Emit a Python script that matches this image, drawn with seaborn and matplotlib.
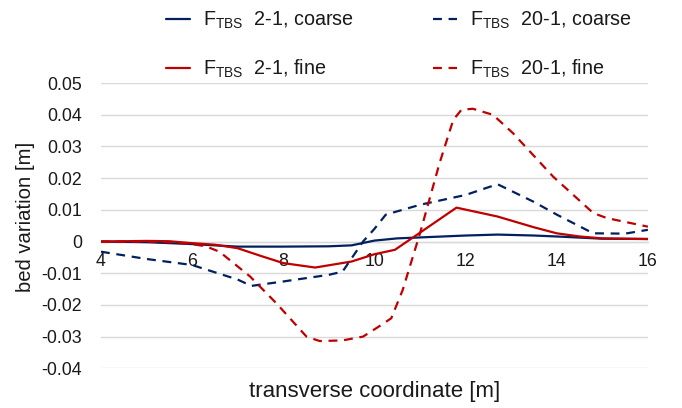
import numpy as np
import pandas as pd
import matplotlib
matplotlib.use("Agg")
import matplotlib.pyplot as plt
import seaborn as sns

# ---- data ----
x_c21 = [4, 5, 6, 6.5, 7, 8, 9, 9.5, 10, 10.5, 11, 12, 12.7, 13.5, 14, 15, 16]
y_c21 = [0, -0.0002, -0.0008, -0.0012, -0.0016, -0.0016, -0.0015, -0.0012, 0.0003,
         0.001, 0.0013, 0.0019, 0.0022, 0.0019, 0.0016, 0.0009, 0.0008]

x_f21 = [4, 5, 5.5, 6, 6.5, 7, 7.5, 8, 8.7, 9.5, 10, 10.45, 11, 11.8, 12.7, 13.5, 14, 14.5, 15, 16]
y_f21 = [0, 0.0002, 0.0001, -0.0005, -0.001, -0.0021, -0.0045, -0.0068, -0.0082, -0.0063,
         -0.004, -0.0026, 0.0028, 0.0107, 0.0079, 0.0045, 0.0026, 0.0016, 0.001, 0.0008]

x_c201 = [4, 5, 6, 7, 7.3, 8, 9, 9.3, 9.75, 10, 10.25, 11, 12, 12.7, 13.5, 14, 14.8, 15.5, 16]
y_c201 = [-0.0032, -0.0055, -0.0074, -0.012, -0.014, -0.0126, -0.0105, -0.0095, 0.0, 0.004,
          0.0085, 0.0116, 0.0147, 0.0181, 0.0125, 0.0085, 0.0026, 0.0025, 0.0037]

x_f201 = [4, 5, 5.5, 6, 6.3, 6.6, 7.27, 7.85, 8.51, 8.8, 9.3, 9.75, 10.1, 10.37, 10.62, 11.0,
          11.43, 11.73, 11.91, 12.16, 12.6, 13.04, 13.92, 14.8, 15.1, 16]
y_f201 = [0, 0, -0.0002, -0.0008, -0.0015, -0.0032, -0.011, -0.0195, -0.030, -0.0314, -0.0312,
          -0.030, -0.0268, -0.0242, -0.0153, 0.0026, 0.0248, 0.0384, 0.0416, 0.0419, 0.040,
          0.0342, 0.0205, 0.009, 0.0074, 0.0047]

labels = [r"F$_\mathregular{TBS}$  2-1, coarse",
          r"F$_\mathregular{TBS}$  2-1, fine",
          r"F$_\mathregular{TBS}$  20-1, coarse",
          r"F$_\mathregular{TBS}$  20-1, fine"]
x_ticks = [4, 6, 8, 10, 12, 14, 16]
y_ticks = [-0.04, -0.03, -0.02, -0.01, 0, 0.01, 0.02, 0.03, 0.04, 0.05]

frames = []
for lab, xs, ys in zip(labels, [x_c21, x_f21, x_c201, x_f201], [y_c21, y_f21, y_c201, y_f201]):
    frames.append(pd.DataFrame({"x": xs, "y": ys, "series": lab}))
df = pd.concat(frames, ignore_index=True)

sns.set_theme(style="white")
plt.rcParams["font.family"] = ["Liberation Sans", "DejaVu Sans"]
plt.rcParams["mathtext.fontset"] = "custom"
plt.rcParams["mathtext.rm"] = "Liberation Sans"

navy = "#002060"
red = "#C00000"
txt = "#1a1a1a"
palette = {labels[0]: navy, labels[1]: red, labels[2]: navy, labels[3]: red}
dashes = {labels[0]: "", labels[1]: "", labels[2]: (4, 3), labels[3]: (4, 3)}

fig = plt.figure(figsize=(6.82, 4.08), dpi=100)
ax = fig.add_axes([0.148, 0.0973, 0.802, 0.699])

sns.lineplot(data=df, x="x", y="y", hue="series", style="series", palette=palette,
             dashes=dashes, hue_order=labels, style_order=labels, sort=False,
             estimator=None, linewidth=1.6, ax=ax, legend=True)

ax.set_xlim(4, 16)
ax.set_ylim(-0.04, 0.05)
ax.set_xticks(x_ticks)
ax.set_yticks(y_ticks)
ax.set_yticklabels([("%g" % v) for v in y_ticks])
ax.set_xticklabels([str(v) for v in x_ticks])
ax.grid(axis="y", color="#d9d9d9", linewidth=1.0)
ax.grid(axis="x", visible=False)
for s in ["top", "right", "left"]:
    ax.spines[s].set_visible(False)
ax.spines["bottom"].set_position(("data", 0))
ax.spines["bottom"].set_color("#d9d9d9")
ax.spines["bottom"].set_linewidth(1.0)
ax.spines["bottom"].set_zorder(0.5)
ax.tick_params(axis="both", length=0, labelsize=12.8, colors=txt)
ax.tick_params(axis="x", pad=8)
ax.tick_params(axis="y", pad=13.5)
ax.set_xlabel("transverse coordinate [m]", fontsize=16, color=txt)
ax.set_ylabel("bed variation [m]", fontsize=14.6, color=txt)
ax.xaxis.set_label_coords(0.5, -0.045)
ax.yaxis.set_label_coords(-0.12, 0.53)

handles, labs = ax.get_legend_handles_labels()
ax.get_legend().remove()
fig.legend(handles, labs, ncol=2, loc="upper left", bbox_to_anchor=(0.217, 1.02),
           frameon=False, fontsize=14.2, handlelength=1.22, columnspacing=4.05,
           labelspacing=1.36, handletextpad=0.65)
for t in fig.legends[0].get_texts():
    t.set_color(txt)

fig.savefig("out.png", dpi=100)
